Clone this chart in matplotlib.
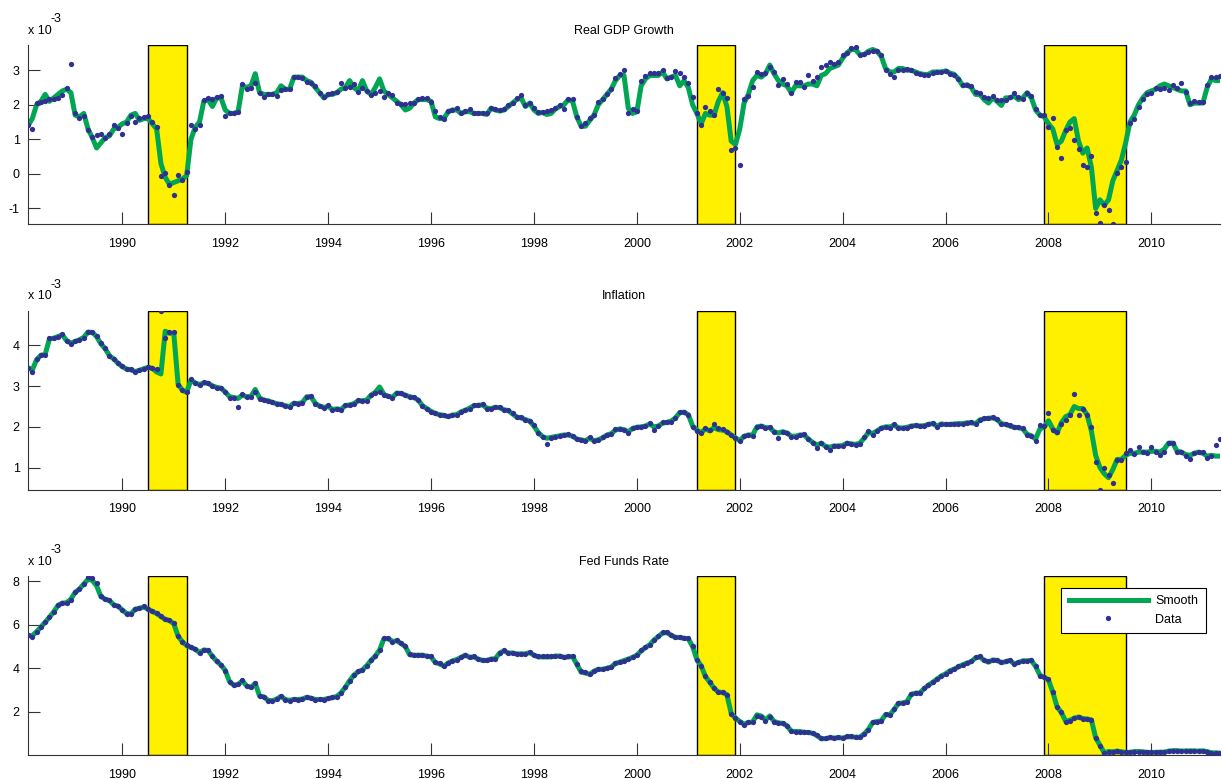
import numpy as np
import matplotlib
matplotlib.use("Agg")
import matplotlib.pyplot as plt

plt.rcParams['font.family'] = ['Liberation Sans', 'DejaVu Sans']
plt.rcParams['axes.unicode_minus'] = False

# monthly observations, March 1988 .. May 2011 (values in units of 1e-3)
gdp_data = [
    1.42, 1.29, 2.04, 2.09, 2.11, 2.18, 2.18, 2.2, 2.28, 2.5,
    3.17, 1.75, 1.63, 1.67, 1.26, 1.06, 1.12, 1.14, 1.05, 1.14,
    1.42, 1.32, 1.14, 1.48, 1.68, 1.51, 1.61, 1.64, 1.67, 1.51,
    1.37, -0.06, 0.02, -0.33, -0.61, -0.02, -0.17, 0.05, 1.42, 1.29,
    1.42, 2.14, 2.19, 2.16, 2.22, 2.25, 1.67, 1.77, 1.77, 1.8,
    2.59, 2.45, 2.48, 2.62, 2.35, 2.22, 2.31, 2.3, 2.24, 2.43,
    2.47, 2.45, 2.79, 2.79, 2.77, 2.67, 2.64, 2.54, 2.33, 2.22,
    2.31, 2.35, 2.38, 2.62, 2.5, 2.52, 2.59, 2.38, 2.48, 2.4,
    2.28, 2.33, 2.4, 2.23, 2.33, 2.28, 2.06, 2.02, 2.02, 2.06,
    2.06, 2.16, 2.19, 2.19, 2.09, 1.82, 1.66, 1.58, 1.82, 1.85,
    1.9, 1.75, 1.82, 1.88, 1.77, 1.77, 1.77, 1.77, 1.9, 1.87,
    1.85, 1.87, 1.99, 2.06, 2.19, 2.27, 1.99, 2.06, 1.9, 1.8,
    1.8, 1.82, 1.85, 1.92, 1.99, 1.87, 2.16, 2.16, 1.66, 1.39,
    1.47, 1.61, 1.71, 2.09, 2.16, 2.31, 2.45, 2.77, 2.88, 3.01,
    1.75, 1.88, 1.82, 2.7, 2.83, 2.93, 2.91, 2.91, 3.01, 2.77,
    2.79, 2.98, 2.91, 2.79, 2.62, 2.22, 1.77, 1.41, 1.93, 1.83,
    1.71, 2.47, 2.35, 2.19, 0.69, 0.74, 0.26, 2.16, 2.25, 2.52,
    2.94, 2.89, 2.91, 3.1, 2.96, 2.56, 2.74, 2.6, 2.33, 2.66,
    2.67, 2.52, 2.85, 2.68, 2.81, 3.08, 3.15, 3.25, 3.17, 3.25,
    3.44, 3.51, 3.63, 3.66, 3.44, 3.47, 3.53, 3.55, 3.55, 3.43,
    3.01, 2.88, 2.81, 3.01, 3.01, 3.03, 3.01, 2.93, 2.88, 2.86,
    2.86, 2.91, 2.94, 2.96, 2.98, 2.88, 2.86, 2.75, 2.57, 2.57,
    2.54, 2.38, 2.35, 2.22, 2.19, 2.25, 2.14, 2.14, 2.14, 2.22,
    2.35, 2.23, 2.16, 2.33, 2.25, 1.87, 1.7, 1.7, 1.35, 1.61,
    0.77, 0.47, 1.27, 1.33, 0.98, 0.71, 0.25, 0.19, 0.51, -1.14,
    -1.41, -0.9, -1.04, -1.45, 0.04, 0.21, 0.35, 1.47, 1.58, 1.93,
    2.16, 2.31, 2.35, 2.48, 2.45, 2.48, 2.43, 2.57, 2.48, 2.62,
    2.38, 2.04, 2.11, 2.09, 2.09, 2.57, 2.79, 2.81, 2.84,
]
gdp_smooth = [
    1.4, 1.6, 2.0, 2.1, 2.3, 2.1, 2.2, 2.3, 2.4, 2.45,
    2.35, 1.7, 1.65, 1.75, 1.3, 1.05, 0.75, 0.9, 1.05, 1.1,
    1.3, 1.35, 1.45, 1.5, 1.7, 1.75, 1.55, 1.6, 1.6, 1.45,
    1.3, 0.3, -0.1, -0.3, -0.25, -0.2, -0.15, -0.05, 1.0, 1.35,
    1.5, 2.1, 2.15, 1.95, 2.2, 2.2, 1.85, 1.75, 1.75, 1.8,
    2.55, 2.5, 2.55, 2.9, 2.35, 2.3, 2.3, 2.3, 2.35, 2.55,
    2.45, 2.45, 2.8, 2.8, 2.8, 2.7, 2.65, 2.5, 2.35, 2.2,
    2.3, 2.3, 2.35, 2.45, 2.5, 2.7, 2.5, 2.4, 2.7, 2.4,
    2.3, 2.5, 2.75, 2.4, 2.3, 2.2, 2.1, 2.0, 1.85, 1.9,
    2.05, 2.15, 2.15, 2.15, 2.1, 1.65, 1.6, 1.6, 1.8, 1.85,
    1.85, 1.75, 1.8, 1.8, 1.75, 1.75, 1.75, 1.72, 1.9, 1.85,
    1.82, 1.85, 1.95, 2.05, 2.15, 2.2, 1.95, 2.05, 1.85, 1.75,
    1.78, 1.72, 1.75, 1.88, 1.95, 2.0, 2.15, 2.1, 1.65, 1.38,
    1.38, 1.55, 1.7, 2.0, 2.15, 2.3, 2.45, 2.7, 2.85, 2.85,
    1.9, 1.75, 1.8, 2.55, 2.75, 2.85, 2.85, 2.85, 2.95, 2.75,
    2.8, 2.85, 2.55, 2.7, 2.5, 2.0, 1.75, 1.45, 1.75, 1.7,
    1.7, 2.1, 2.35, 1.95, 0.95, 0.85, 1.3, 2.05, 2.3, 2.7,
    2.85, 2.8, 2.9, 3.15, 2.9, 2.7, 2.6, 2.55, 2.35, 2.55,
    2.55, 2.55, 2.6, 2.6, 2.55, 2.85, 2.9, 3.05, 3.1, 3.15,
    3.35, 3.5, 3.6, 3.6, 3.45, 3.45, 3.55, 3.6, 3.55, 3.4,
    3.05, 2.95, 2.95, 3.05, 3.05, 3.0, 3.0, 2.95, 2.9, 2.88,
    2.88, 2.95, 2.95, 2.95, 2.98, 2.92, 2.88, 2.75, 2.55, 2.58,
    2.5, 2.3, 2.3, 2.15, 2.05, 2.2, 2.1, 1.98, 2.2, 2.2,
    2.25, 2.15, 2.2, 2.35, 2.2, 1.85, 1.7, 1.65, 1.45, 1.3,
    0.85, 0.95, 1.25, 1.5, 1.6, 0.95, 0.6, 0.75, 0.2, -1.0,
    -0.75, -0.9, -0.75, -0.2, 0.1, 0.4, 0.9, 1.5, 1.7, 2.0,
    2.2, 2.35, 2.4, 2.45, 2.55, 2.6, 2.55, 2.5, 2.45, 2.4,
    2.4, 2.0, 2.05, 2.05, 2.05, 2.5, 2.75, 2.7, 2.7,
]

infl_data = [
    3.45, 3.36, 3.67, 3.76, 3.76, 4.18, 4.18, 4.2, 4.28, 4.1,
    4.04, 4.11, 4.13, 4.19, 4.34, 4.34, 4.24, 4.06, 3.94, 3.73,
    3.67, 3.57, 3.49, 3.43, 3.41, 3.34, 3.39, 3.43, 3.47, 3.45,
    3.41, 4.86, 4.19, 4.32, 4.33, 3.02, 2.9, 2.85, 3.18, 3.09,
    3.02, 3.1, 3.08, 3.01, 2.96, 2.96, 2.86, 2.72, 2.7, 2.49,
    2.8, 2.74, 2.74, 2.86, 2.69, 2.66, 2.64, 2.61, 2.57, 2.55,
    2.52, 2.48, 2.59, 2.57, 2.59, 2.74, 2.75, 2.57, 2.51, 2.47,
    2.53, 2.41, 2.45, 2.41, 2.53, 2.53, 2.57, 2.66, 2.63, 2.64,
    2.79, 2.83, 2.86, 2.79, 2.75, 2.71, 2.83, 2.82, 2.79, 2.74,
    2.74, 2.67, 2.51, 2.45, 2.37, 2.33, 2.3, 2.29, 2.26, 2.29,
    2.29, 2.37, 2.41, 2.45, 2.53, 2.53, 2.55, 2.45, 2.45, 2.49,
    2.48, 2.41, 2.41, 2.33, 2.23, 2.23, 2.18, 2.15, 2.04, 1.86,
    1.76, 1.57, 1.72, 1.76, 1.78, 1.8, 1.82, 1.78, 1.69, 1.68,
    1.66, 1.74, 1.65, 1.68, 1.74, 1.8, 1.82, 1.94, 1.95, 1.92,
    1.86, 1.98, 2.0, 2.0, 2.02, 2.1, 1.92, 2.02, 2.11, 2.11,
    2.13, 2.22, 2.37, 2.37, 2.3, 2.0, 1.9, 1.84, 1.96, 1.92,
    2.07, 1.96, 1.94, 1.88, 1.8, 1.72, 1.64, 1.78, 1.8, 1.78,
    2.0, 2.02, 1.96, 2.0, 1.88, 1.73, 1.88, 1.86, 1.76, 1.76,
    1.8, 1.82, 1.69, 1.61, 1.47, 1.61, 1.51, 1.42, 1.53, 1.53,
    1.53, 1.61, 1.58, 1.56, 1.58, 1.74, 1.9, 1.8, 1.9, 1.98,
    2.0, 1.98, 2.07, 1.96, 1.96, 1.98, 2.02, 2.04, 2.02, 2.02,
    2.07, 2.1, 2.0, 2.08, 2.06, 2.06, 2.07, 2.08, 2.08, 2.1,
    2.11, 2.07, 2.18, 2.21, 2.21, 2.23, 2.19, 2.07, 2.07, 2.04,
    2.0, 1.99, 1.96, 1.8, 1.78, 1.65, 2.04, 2.02, 2.35, 1.92,
    1.88, 2.06, 2.18, 2.29, 2.8, 2.29, 2.43, 2.28, 2.0, 1.13,
    0.45, 0.98, 0.82, 0.62, 1.19, 1.19, 1.35, 1.42, 1.33, 1.5,
    1.39, 1.35, 1.51, 1.39, 1.31, 1.37, 1.6, 1.6, 1.39, 1.39,
    1.29, 1.2, 1.35, 1.39, 1.37, 1.23, 1.29, 1.55, 1.71,
]
infl_smooth = [
    3.45, 3.4, 3.65, 3.76, 3.78, 4.16, 4.18, 4.22, 4.26, 4.12,
    4.06, 4.1, 4.14, 4.2, 4.33, 4.32, 4.22, 4.04, 3.92, 3.75,
    3.67, 3.56, 3.48, 3.42, 3.4, 3.36, 3.39, 3.43, 3.46, 3.44,
    3.35, 3.3, 4.35, 4.3, 4.3, 3.05, 2.9, 2.85, 3.15, 3.08,
    3.04, 3.08, 3.07, 3.01, 2.97, 2.95, 2.86, 2.74, 2.72, 2.7,
    2.78, 2.74, 2.75, 2.92, 2.71, 2.66, 2.64, 2.6, 2.57, 2.55,
    2.52, 2.5, 2.58, 2.57, 2.6, 2.74, 2.74, 2.58, 2.51, 2.48,
    2.5, 2.43, 2.44, 2.43, 2.52, 2.54, 2.57, 2.64, 2.64, 2.66,
    2.78, 2.85, 2.98, 2.8, 2.75, 2.73, 2.83, 2.82, 2.78, 2.74,
    2.72, 2.66, 2.52, 2.45, 2.38, 2.33, 2.3, 2.28, 2.25, 2.29,
    2.3, 2.37, 2.41, 2.46, 2.52, 2.53, 2.54, 2.46, 2.45, 2.48,
    2.47, 2.42, 2.4, 2.32, 2.24, 2.22, 2.18, 2.14, 2.02, 1.86,
    1.76, 1.72, 1.74, 1.76, 1.78, 1.8, 1.8, 1.77, 1.7, 1.68,
    1.66, 1.72, 1.66, 1.68, 1.73, 1.8, 1.83, 1.92, 1.95, 1.93,
    1.88, 1.96, 1.99, 2.0, 2.02, 2.07, 2.0, 2.02, 2.09, 2.11,
    2.14, 2.22, 2.35, 2.36, 2.3, 2.02, 1.92, 1.86, 1.95, 1.9,
    1.98, 1.93, 1.92, 1.88, 1.8, 1.73, 1.66, 1.77, 1.8, 1.8,
    2.0, 2.02, 1.98, 1.98, 1.88, 1.85, 1.88, 1.85, 1.77, 1.77,
    1.8, 1.8, 1.7, 1.62, 1.55, 1.6, 1.52, 1.5, 1.53, 1.53,
    1.54, 1.6, 1.58, 1.57, 1.6, 1.72, 1.86, 1.84, 1.9, 1.97,
    2.0, 2.0, 2.04, 1.98, 1.97, 1.99, 2.02, 2.03, 2.02, 2.03,
    2.06, 2.08, 2.02, 2.07, 2.06, 2.06, 2.07, 2.08, 2.08, 2.1,
    2.1, 2.08, 2.17, 2.2, 2.21, 2.22, 2.18, 2.08, 2.06, 2.02,
    1.99, 1.98, 1.95, 1.82, 1.78, 1.7, 1.95, 2.0, 2.15, 1.95,
    1.85, 2.1, 2.25, 2.3, 2.5, 2.45, 2.45, 2.3, 1.9, 1.3,
    1.0, 0.85, 0.75, 0.95, 1.2, 1.2, 1.3, 1.35, 1.35, 1.38,
    1.38, 1.38, 1.4, 1.4, 1.38, 1.45, 1.6, 1.6, 1.4, 1.38,
    1.32, 1.3, 1.35, 1.38, 1.35, 1.28, 1.3, 1.28, 1.28,
]

fed_data = [
    5.55, 5.46, 5.66, 5.89, 6.12, 6.35, 6.58, 6.92, 7.02, 7.02,
    7.15, 7.51, 7.63, 7.89, 8.2, 8.17, 7.92, 7.31, 7.2, 7.15,
    6.92, 6.89, 6.69, 6.51, 6.51, 6.74, 6.77, 6.85, 6.74, 6.63,
    6.54, 6.4, 6.25, 6.23, 6.08, 5.48, 5.23, 5.05, 4.97, 4.89,
    4.71, 4.86, 4.85, 4.55, 4.32, 4.17, 3.89, 3.35, 3.23, 3.25,
    3.46, 3.17, 3.12, 3.32, 2.71, 2.69, 2.51, 2.51, 2.58, 2.74,
    2.55, 2.51, 2.58, 2.55, 2.58, 2.69, 2.63, 2.55, 2.58, 2.55,
    2.62, 2.66, 2.69, 2.86, 3.12, 3.43, 3.69, 3.85, 3.92, 4.12,
    4.38, 4.58, 4.82, 5.38, 5.38, 5.23, 5.28, 5.15, 5.02, 4.66,
    4.62, 4.62, 4.62, 4.58, 4.55, 4.28, 4.23, 4.12, 4.25, 4.35,
    4.4, 4.51, 4.62, 4.51, 4.55, 4.43, 4.38, 4.38, 4.43, 4.43,
    4.71, 4.82, 4.71, 4.71, 4.66, 4.66, 4.66, 4.74, 4.62, 4.55,
    4.55, 4.54, 4.54, 4.58, 4.58, 4.51, 4.55, 4.55, 4.2, 3.85,
    3.82, 3.74, 3.89, 3.97, 3.97, 4.0, 4.05, 4.25, 4.28, 4.35,
    4.43, 4.51, 4.62, 4.82, 4.97, 5.09, 5.32, 5.48, 5.66, 5.66,
    5.55, 5.43, 5.46, 5.4, 5.38, 5.02, 4.4, 4.12, 3.63, 3.35,
    3.08, 2.89, 2.89, 2.77, 1.89, 1.69, 1.54, 1.38, 1.51, 1.51,
    1.78, 1.74, 1.58, 1.77, 1.51, 1.48, 1.48, 1.35, 1.09, 1.08,
    1.08, 1.05, 1.05, 1.0, 0.92, 0.78, 0.78, 0.82, 0.78, 0.82,
    0.78, 0.86, 0.86, 0.82, 0.82, 0.97, 1.17, 1.51, 1.54, 1.58,
    1.89, 1.85, 2.12, 2.4, 2.4, 2.46, 2.82, 2.86, 2.86, 3.08,
    3.22, 3.35, 3.51, 3.66, 3.74, 3.89, 3.97, 4.08, 4.17, 4.25,
    4.31, 4.51, 4.55, 4.38, 4.31, 4.4, 4.38, 4.28, 4.31, 4.38,
    4.2, 4.28, 4.35, 4.35, 4.38, 4.09, 3.66, 3.58, 3.48, 2.89,
    2.2, 1.97, 1.54, 1.58, 1.69, 1.74, 1.66, 1.66, 1.63, 0.77,
    0.43, 0.09, 0.16, 0.15, 0.18, 0.15, 0.12, 0.12, 0.16, 0.16,
    0.15, 0.12, 0.12, 0.12, 0.13, 0.13, 0.18, 0.2, 0.2, 0.18,
    0.19, 0.19, 0.19, 0.18, 0.19, 0.16, 0.1, 0.1, 0.09,
]
fed_smooth = [
    5.5, 5.5, 5.68, 5.9, 6.12, 6.35, 6.6, 6.9, 7.0, 7.02,
    7.18, 7.5, 7.65, 7.88, 8.1, 8.05, 7.8, 7.3, 7.18, 7.12,
    6.92, 6.86, 6.68, 6.52, 6.5, 6.72, 6.76, 6.82, 6.72, 6.62,
    6.52, 6.38, 6.25, 6.2, 6.05, 5.48, 5.22, 5.05, 4.96, 4.88,
    4.72, 4.84, 4.82, 4.55, 4.32, 4.15, 3.9, 3.38, 3.22, 3.25,
    3.42, 3.18, 3.12, 3.3, 2.72, 2.68, 2.52, 2.5, 2.58, 2.7,
    2.56, 2.52, 2.56, 2.56, 2.58, 2.66, 2.62, 2.56, 2.56, 2.56,
    2.6, 2.64, 2.7, 2.86, 3.12, 3.42, 3.68, 3.84, 3.92, 4.12,
    4.36, 4.56, 4.84, 5.36, 5.36, 5.24, 5.26, 5.14, 5.0, 4.62,
    4.6, 4.6, 4.6, 4.56, 4.52, 4.26, 4.2, 4.1, 4.24, 4.34,
    4.4, 4.5, 4.6, 4.5, 4.52, 4.42, 4.36, 4.36, 4.42, 4.44,
    4.7, 4.8, 4.7, 4.7, 4.66, 4.66, 4.66, 4.72, 4.6, 4.52,
    4.52, 4.52, 4.52, 4.56, 4.56, 4.5, 4.52, 4.54, 4.18, 3.82,
    3.78, 3.72, 3.86, 3.95, 3.95, 4.0, 4.05, 4.22, 4.28, 4.35,
    4.42, 4.5, 4.6, 4.8, 4.95, 5.08, 5.3, 5.46, 5.62, 5.64,
    5.52, 5.42, 5.42, 5.38, 5.36, 5.0, 4.4, 4.1, 3.62, 3.35,
    3.08, 2.9, 2.88, 2.78, 1.92, 1.7, 1.55, 1.42, 1.5, 1.52,
    1.85, 1.8, 1.62, 1.8, 1.55, 1.48, 1.46, 1.35, 1.1, 1.08,
    1.08, 1.05, 1.04, 1.0, 0.9, 0.75, 0.75, 0.8, 0.78, 0.8,
    0.78, 0.84, 0.84, 0.82, 0.82, 0.97, 1.18, 1.5, 1.54, 1.58,
    1.86, 1.85, 2.1, 2.38, 2.4, 2.46, 2.8, 2.85, 2.86, 3.06,
    3.22, 3.35, 3.5, 3.64, 3.74, 3.88, 3.96, 4.06, 4.16, 4.24,
    4.3, 4.48, 4.52, 4.36, 4.28, 4.38, 4.36, 4.26, 4.3, 4.36,
    4.2, 4.26, 4.34, 4.34, 4.36, 4.08, 3.68, 3.58, 3.46, 2.9,
    2.22, 1.96, 1.56, 1.6, 1.7, 1.75, 1.68, 1.66, 1.62, 0.8,
    0.45, 0.1, 0.16, 0.15, 0.18, 0.15, 0.12, 0.12, 0.16, 0.16,
    0.15, 0.12, 0.12, 0.12, 0.13, 0.13, 0.18, 0.2, 0.2, 0.18,
    0.19, 0.19, 0.19, 0.18, 0.19, 0.16, 0.1, 0.1, 0.09,
]

titles = ['Real GDP Growth', 'Inflation', 'Fed Funds Rate']
recessions = [(1990 + 6/12, 1991 + 3/12), (2001 + 2/12, 2001 + 11/12), (2007 + 11/12, 2009 + 6/12)]
year_ticks = list(range(1990, 2011, 2))
ytick_sets = [[-1, 0, 1, 2, 3], [1, 2, 3, 4], [2, 4, 6, 8]]
ylims = [(-1.45, 3.73), (0.46, 4.86), (0.0, 8.25)]

t = 1988 + (np.arange(len(gdp_data)) + 2) / 12.0

green = '#00A651'
navy = '#2E3192'
yellow = '#FFF000'

fig = plt.figure(figsize=(12.22, 7.79), dpi=100)
left, width, height = 28/1222, 1192/1222, 179/779
bottoms = [1 - 224/779, 1 - 489.5/779, 1 - 755/779]

series = [(gdp_smooth, gdp_data), (infl_smooth, infl_data), (fed_smooth, fed_data)]

for i, (sm, dat) in enumerate(series):
    ax = fig.add_axes([left, bottoms[i], width, height])
    for a, b in recessions:
        ax.axvspan(a, b, facecolor=yellow, edgecolor='black', linewidth=1.0, zorder=1)
    ax.plot(t, sm, color=green, linewidth=3.6, label='Smooth', zorder=2)
    ax.plot(t, dat, linestyle='none', marker='o', markersize=3.8, color=navy,
            markeredgewidth=0, label='Data', zorder=3)
    ax.set_xlim(t[0], t[-1])
    ax.set_ylim(*ylims[i])
    ax.set_xticks(year_ticks)
    ax.set_yticks(ytick_sets[i])
    ax.tick_params(direction='in', length=8.5, width=0.8, color='#333333',
                   labelsize=9, labelcolor='black')
    ax.tick_params(axis='x', pad=10)
    ax.tick_params(axis='y', pad=6)
    ax.spines['top'].set_visible(False)
    ax.spines['right'].set_visible(False)
    ax.spines['left'].set_color('#333333')
    ax.spines['bottom'].set_color('#333333')
    ax.set_title(titles[i], fontsize=9, pad=8)
    ax.text(0.0, 1.08, 'x 10', transform=ax.transAxes, fontsize=9,
            ha='left', va='center')
    ax.text(0.0185, 1.145, '-3', transform=ax.transAxes, fontsize=9,
            ha='left', va='center')
    if i == 2:
        leg = ax.legend(loc='upper right', bbox_to_anchor=(0.988, 0.933),
                        borderaxespad=0, fontsize=9, handlelength=6.3,
                        handletextpad=0.6, fancybox=False, framealpha=1,
                        edgecolor='black', borderpad=0.6, labelspacing=0.5)
        leg.get_frame().set_linewidth(0.8)

fig.savefig('out.png', dpi=100)
